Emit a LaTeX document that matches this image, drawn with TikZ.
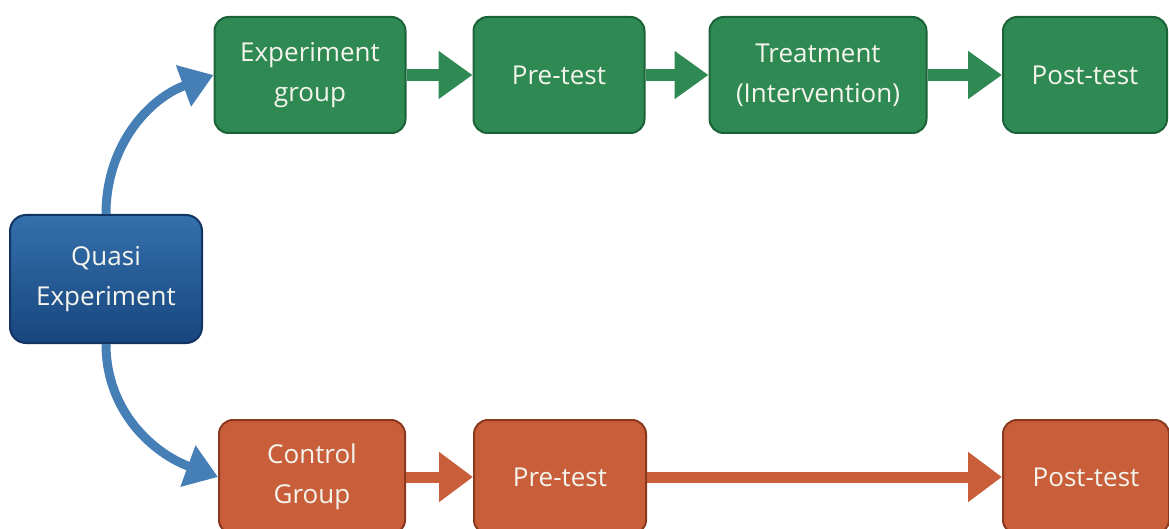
\documentclass[tikz,border=0pt]{standalone}
\usepackage{fontspec}
\setmainfont{Open Sans}
\usetikzlibrary{arrows.meta}
\definecolor{boxgreen}{RGB}{46,137,82}
\definecolor{edgegreen}{RGB}{28,98,56}
\definecolor{boxorange}{RGB}{200,94,58}
\definecolor{edgeorange}{RGB}{138,56,30}
\definecolor{bluetop}{RGB}{52,112,172}
\definecolor{bluebot}{RGB}{24,70,126}
\definecolor{edgeblue}{RGB}{18,52,98}
\definecolor{arrowblue}{RGB}{70,126,182}
\definecolor{boxtext}{RGB}{245,245,238}
\tikzset{
  box/.style={rounded corners=14pt, line width=2pt, text=boxtext, align=center,
    font=\fontsize{26}{40}\selectfont, inner sep=0pt},
  greenbox/.style={box, fill=boxgreen, draw=edgegreen, minimum height=116pt},
  orangebox/.style={box, fill=boxorange, draw=edgeorange, minimum height=114pt},
  bluebox/.style={box, top color=bluetop, bottom color=bluebot, draw=edgeblue,
    rounded corners=16pt, minimum width=192pt, minimum height=128pt},
  greenflow/.style={draw=boxgreen, line width=12pt, -{Triangle[length=34pt,width=46pt]}},
  orangeflow/.style={draw=boxorange, line width=11pt, -{Triangle[length=34pt,width=48pt]}},
  blueflow/.style={draw=arrowblue, line width=9pt, -{Triangle[length=32pt,width=42pt]}},
}
\begin{document}
\begin{tikzpicture}[x=1pt,y=1pt]
	\useasboundingbox (0,0) rectangle (1169,-529);
	\clip (0,0) rectangle (1169,-529);
	\node [bluebox] (quasi) at (106,-279) {Quasi\\Experiment};
	\node [greenbox, minimum width=191pt] (expgrp) at (310,-75) {Experiment\\group};
	\node [greenbox, minimum width=171pt] (pre1) at (559,-75) {Pre-test};
	\node [greenbox, minimum width=217pt] (treat) at (818,-75) {Treatment\\(Intervention)};
	\node [greenbox, minimum width=164pt] (post1) at (1085,-75) {Post-test};
	\node [orangebox, minimum width=186pt] (control) at (312,-477) {Control\\Group};
	\node [orangebox, minimum width=172pt] (pre2) at (560,-477) {Pre-test};
	\node [orangebox, minimum width=166pt] (post2) at (1086,-477) {Post-test};
	\draw [greenflow] (expgrp.east) -- (pre1.west);
	\draw [greenflow] (pre1.east) -- (treat.west);
	\draw [greenflow] (treat.east) -- (post1.west);
	\draw [orangeflow] (control.east) -- (pre2.west);
	\draw [orangeflow] (pre2.east) -- (post2.west);
	\draw [blueflow] (quasi.north) to[out=90, in=200] (expgrp.west);
	\draw [blueflow] (quasi.south) to[out=-90, in=160] (control.west);
\end{tikzpicture}
\end{document}
